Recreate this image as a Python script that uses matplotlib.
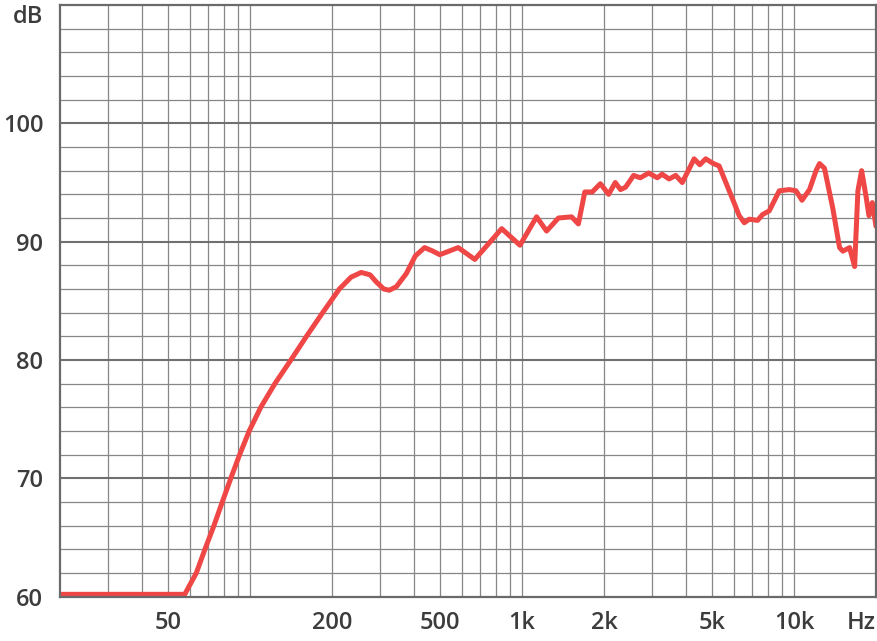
import matplotlib
matplotlib.use("Agg")
import matplotlib.pyplot as plt

# ---- data ----
freq_hz = [20, 57.5, 63.4, 68.2, 73.6, 79.0, 84.9, 91.5, 99.2, 109.4, 123.3, 141.2, 161.1, 184.8, 212.8,
           235, 256, 276, 291, 310, 325, 345, 375, 405, 438, 470, 498,
           582, 670, 751, 841, 982, 1130, 1230, 1360, 1520, 1610,
           1700, 1810, 1940, 2080, 2200, 2300, 2400, 2570, 2720, 2920, 3140, 3270, 3470, 3670, 3880,
           4290, 4500, 4730, 5050, 5300, 5610, 5940, 6280, 6560, 6840, 7340, 7660, 8100, 8820, 9610,
           10160, 10690, 11390, 12040, 12400, 12930, 13880, 14690, 15110, 15990, 16690, 17160, 17710, 18420, 18840,
           19380, 20000]
spl_db = [60.2, 60.2, 62.0, 64.0, 66.0, 68.0, 70.0, 72.0, 74.0, 76.0, 78.0, 80.0, 82.0, 84.0, 86.0,
          87.0, 87.4, 87.2, 86.6, 86.0, 85.9, 86.2, 87.3, 88.8, 89.5, 89.2, 88.9,
          89.5, 88.5, 89.8, 91.1, 89.7, 92.1, 90.9, 92.0, 92.1, 91.5,
          94.2, 94.2, 94.9, 94.0, 95.0, 94.4, 94.6, 95.6, 95.4, 95.8, 95.4, 95.7, 95.3, 95.6, 95.0,
          97.0, 96.5, 97.0, 96.6, 96.4, 95.0, 93.6, 92.2, 91.6, 91.9, 91.8, 92.3, 92.6, 94.3, 94.4,
          94.3, 93.5, 94.4, 96.0, 96.6, 96.2, 92.8, 89.5, 89.2, 89.5, 87.9, 94.3, 96.0, 93.7, 92.2,
          93.3, 91.3]

x_ticks = [50, 200, 500, 1000, 2000, 5000, 10000, 20000]
x_tick_labels = ["50", "200", "500", "1k", "2k", "5k", "10k", "Hz"]
y_ticks = [60, 70, 80, 90, 100]
y_tick_labels = ["60", "70", "80", "90", "100"]
y_unit = "dB"

# ---- style ----
TXT = "#3c3c3c"
GRID = "#878787"
plt.rcParams["font.family"] = ["Open Sans", "DejaVu Sans"]

W, H = 878, 641
fig = plt.figure(figsize=(W / 100, H / 100), dpi=100)
ax = fig.add_axes([60 / W, 1 - 596.7 / H, 816 / W, 591.7 / H])
ax.set_xscale("log")
ax.set_xlim(20, 20000)
ax.set_ylim(60, 110)

# vertical grid lines
vlines = [m * d for d in (10, 100, 1000) for m in range(1, 10) if 20 < m * d < 20000] + [10000]
for f in vlines:
    ax.axvline(f, color=GRID, lw=0.9, zorder=1)
# horizontal grid lines
for d in range(62, 110, 2):
    if d % 10 == 0:
        ax.axhline(d, color="#707070", lw=1.5, zorder=1)
    else:
        ax.axhline(d, color=GRID, lw=0.9, zorder=1)

ax.plot(freq_hz, spl_db, color="#ef4646", lw=3.6, solid_joinstyle="round",
        solid_capstyle="round", zorder=3)

for s in ax.spines.values():
    s.set_color("#6a6a6a")
    s.set_linewidth(1.6)
    s.set_zorder(4)

ax.xaxis.set_minor_locator(matplotlib.ticker.NullLocator())
ax.set_xticks(x_ticks)
ax.set_xticklabels(x_tick_labels)
ax.set_yticks(y_ticks)
ax.set_yticklabels(y_tick_labels)
ax.tick_params(length=0, labelsize=17, labelcolor=TXT)
ax.tick_params(axis="y", pad=12)
ax.tick_params(axis="x", pad=10)
for lab in ax.get_xticklabels() + ax.get_yticklabels():
    lab.set_fontweight("semibold")
ax.get_xticklabels()[-1].set_horizontalalignment("right")

fig.text(43 / W, 1 - 17 / H, y_unit, ha="right", va="center", fontsize=17,
         fontweight="semibold", color=TXT)

fig.savefig("out.png", dpi=100, facecolor="white")
